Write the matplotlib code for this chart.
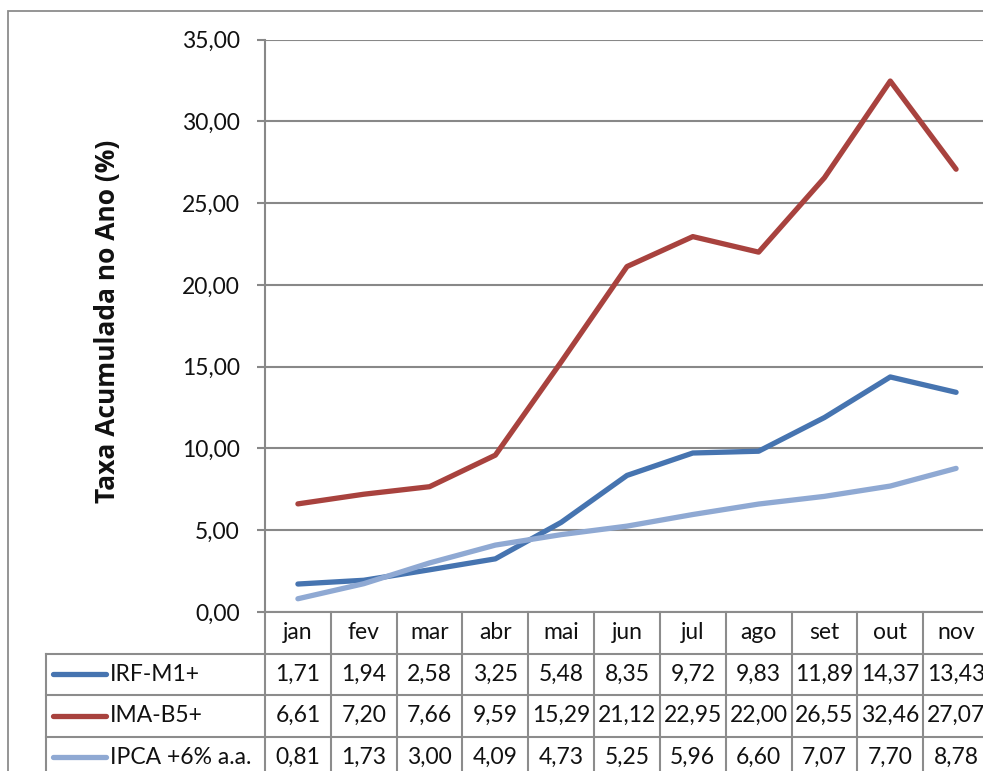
import matplotlib
matplotlib.use("Agg")
import matplotlib.pyplot as plt
from matplotlib.transforms import blended_transform_factory
from matplotlib.lines import Line2D
from matplotlib.patches import Rectangle

plt.rcParams['font.family'] = ['Lato', 'DejaVu Sans']

months = ["jan", "fev", "mar", "abr", "mai", "jun", "jul", "ago", "set", "out", "nov"]
series_names = ["IRF-M1+", "IMA-B5+", "IPCA +6% a.a."]
irf = [1.71, 1.94, 2.58, 3.25, 5.48, 8.35, 9.72, 9.83, 11.89, 14.37, 13.43]
ima = [6.61, 7.20, 7.66, 9.59, 15.29, 21.12, 22.95, 22.00, 26.55, 32.46, 27.07]
ipca = [0.81, 1.73, 3.00, 4.09, 4.73, 5.25, 5.96, 6.60, 7.07, 7.70, 8.78]
yticks = [0, 5, 10, 15, 20, 25, 30, 35]
colors = ["#4674B0", "#A8423E", "#8FA9D3"]
ylabel = "Taxa Acumulada no Ano (%)"

W, H = 983, 771
fig = plt.figure(figsize=(W / 100, H / 100), dpi=100)

def fx(px):
    return px / W

def fy(py):
    return 1 - py / H

grid_c = "#888888"
txt_c = "#111111"
# outer chart border (cropped)
fig.patches.append(Rectangle((fx(8), fy(800)), fx(1000) - fx(8), fy(11) - fy(800),
                             transform=fig.transFigure, fill=False, ec="#8c8c8c", lw=1.3))

left_px, right_px, top_px, bot_px = 265, 989, 39.5, 612
ax = fig.add_axes([fx(left_px), fy(bot_px), fx(right_px) - fx(left_px), fy(top_px) - fy(bot_px)])
ax.set_xlim(-0.5, len(months) - 0.5)
ax.set_ylim(0, 35)
ax.set_yticks(yticks)
ax.set_yticklabels([f"{v:.2f}".replace(".", ",") for v in yticks], fontsize=16.5, color=txt_c)
ax.set_xticks([])
for s in ["top", "right", "bottom"]:
    ax.spines[s].set_visible(False)
ax.spines["left"].set_color(grid_c)
ax.spines["left"].set_linewidth(1.5)
ax.tick_params(axis="y", length=6, width=1.5, color=grid_c, pad=12)
ax.yaxis.grid(True, color=grid_c, lw=1.5)
ax.set_axisbelow(True)
ax.patch.set_alpha(0)

xs = list(range(len(months)))
for vals, c in zip([irf, ima, ipca], colors):
    ax.plot(xs, vals, color=c, lw=3.8, solid_capstyle="round", solid_joinstyle="round", clip_on=False)

fig.text(fx(108), fy(321), ylabel, rotation=90, ha="center", va="center",
         fontsize=19, fontweight="bold", family=["Open Sans", "DejaVu Sans"], color=txt_c)

# data table
tr = blended_transform_factory(ax.transData, fig.transFigure)
row_h = 41.5
rows_y = [bot_px + i * row_h for i in range(5)]  # boundaries
tl_c = "#8c8c8c"
for i, yb in enumerate(rows_y):
    fig.add_artist(Line2D([-0.5, len(months) - 0.5 + 0.2], [fy(yb), fy(yb)], transform=tr,
                          color=tl_c, lw=1.5))
for yb in rows_y[1:]:
    fig.add_artist(Line2D([fx(45.7), fx(left_px)], [fy(yb), fy(yb)], transform=fig.transFigure,
                          color=tl_c, lw=1.5))
for k in range(len(months) + 1):
    fig.add_artist(Line2D([k - 0.5, k - 0.5], [fy(bot_px), fy(H + 20)], transform=tr,
                          color=tl_c, lw=1.5))
fig.add_artist(Line2D([fx(45.7), fx(45.7)], [fy(rows_y[1]), fy(H + 20)], transform=fig.transFigure,
                      color=tl_c, lw=1.5))

for i, m in enumerate(months):
    fig.text(i, fy((rows_y[0] + rows_y[1]) / 2), m, transform=tr, ha="center", va="center",
             fontsize=16.5, color=txt_c)

for r, (name, vals, c) in enumerate(zip(series_names, [irf, ima, ipca], colors)):
    yc = fy((rows_y[r + 1] + rows_y[r + 2]) / 2)
    fig.add_artist(Line2D([fx(53), fx(106)], [yc, yc], transform=fig.transFigure, color=c,
                          lw=3.8, solid_capstyle="round"))
    fig.text(fx(110), yc, name, ha="left", va="center", fontsize=16.5, color=txt_c)
    for i, v in enumerate(vals):
        fig.text(i, yc, f"{v:.2f}".replace(".", ","), transform=tr, ha="center", va="center",
                 fontsize=16.5, color=txt_c)

fig.savefig("out.png", dpi=100)
